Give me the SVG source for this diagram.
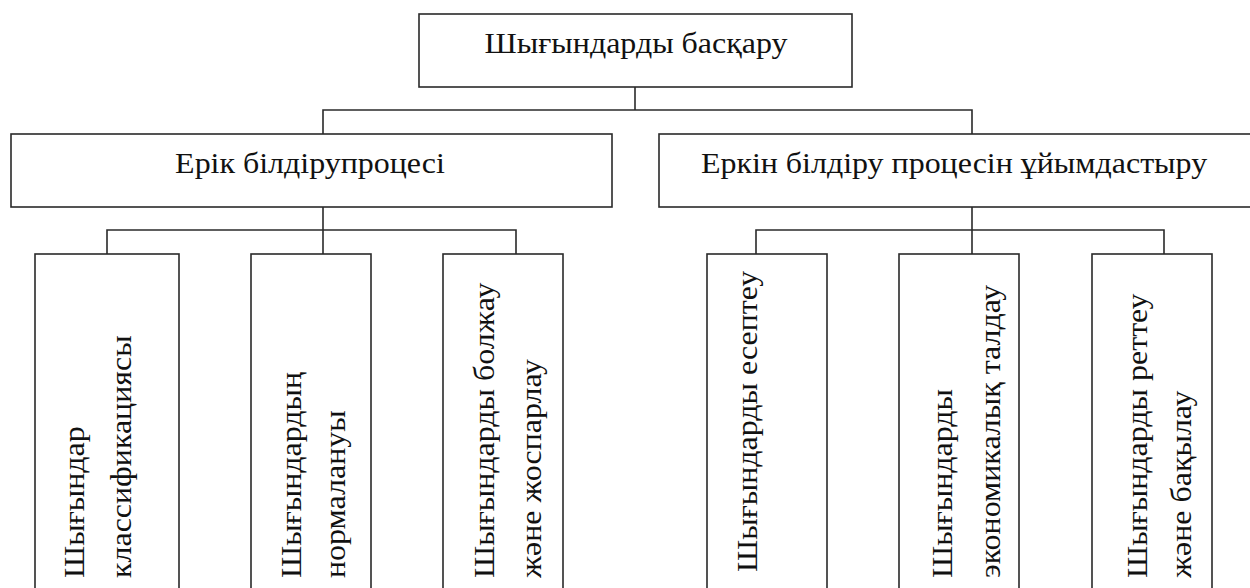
<svg xmlns="http://www.w3.org/2000/svg" width="1250" height="588" viewBox="0 0 1250 588">
<style>
.box{fill:#fff;stroke:#2a2a2a;stroke-width:1.6}
.ln{fill:none;stroke:#2a2a2a;stroke-width:1.6}
text{font-family:"Liberation Serif","Times New Roman",serif;font-size:30px;fill:#111}
.c{text-anchor:middle}
</style>
<rect width="1250" height="588" fill="#fff"/>
<g id="connectors">
<polyline class="ln" points="635,87 635,110"/>
<polyline class="ln" points="323,134 323,110 972,110 972,134"/>
<polyline class="ln" points="323,207 323,230"/>
<polyline class="ln" points="107,254 107,230 516,230 516,254"/>
<polyline class="ln" points="323,230 323,254"/>
<polyline class="ln" points="972,207 972,230"/>
<polyline class="ln" points="756,254 756,230 1164,230 1164,254"/>
<polyline class="ln" points="972,230 972,254"/>
</g>
<g id="root">
<rect class="box" x="419" y="14" width="433" height="73"/>
<text class="c" transform="translate(636,53) scale(1.065,1)">Шығындарды басқару</text>
</g>
<g id="n1">
<rect class="box" x="11" y="134" width="601" height="73"/>
<text class="c" transform="translate(310,173) scale(1.065,1)">Ерік білдірупроцесі</text>
</g>
<g id="n2">
<rect class="box" x="659" y="134" width="592" height="73"/>
<text class="c" transform="translate(954,173) scale(1.065,1)">Еркін білдіру процесін ұйымдастыру</text>
</g>
<g id="c1">
<rect class="box" x="35" y="254" width="144" height="345"/>
<text transform="translate(84,578) rotate(-90) scale(1.065,1)">Шығындар</text>
<text transform="translate(131,578) rotate(-90) scale(1.065,1)">классификациясы</text>
</g>
<g id="c2">
<rect class="box" x="251" y="254" width="120" height="345"/>
<text transform="translate(301,578) rotate(-90) scale(1.065,1)">Шығындардың</text>
<text transform="translate(345,578) rotate(-90) scale(1.065,1)">нормалануы</text>
</g>
<g id="c3">
<rect class="box" x="443" y="254" width="120" height="345"/>
<text transform="translate(494,578) rotate(-90) scale(1.065,1)">Шығындарды болжау</text>
<text transform="translate(541,578) rotate(-90) scale(1.065,1)">және жоспарлау</text>
</g>
<g id="c4">
<rect class="box" x="707" y="254" width="120" height="345"/>
<text transform="translate(757,572) rotate(-90) scale(1.065,1)">Шығындарды есептеу</text>
</g>
<g id="c5">
<rect class="box" x="899" y="254" width="120" height="345"/>
<text transform="translate(952,578) rotate(-90) scale(1.065,1)">Шығындарды</text>
<text transform="translate(1000,578) rotate(-90) scale(1.065,1)">экономикалық талдау</text>
</g>
<g id="c6">
<rect class="box" x="1092" y="254" width="120" height="345"/>
<text transform="translate(1147,578) rotate(-90) scale(1.065,1)">Шығындарды реттеу</text>
<text transform="translate(1191,578) rotate(-90) scale(1.065,1)">және бақылау</text>
</g>
</svg>
